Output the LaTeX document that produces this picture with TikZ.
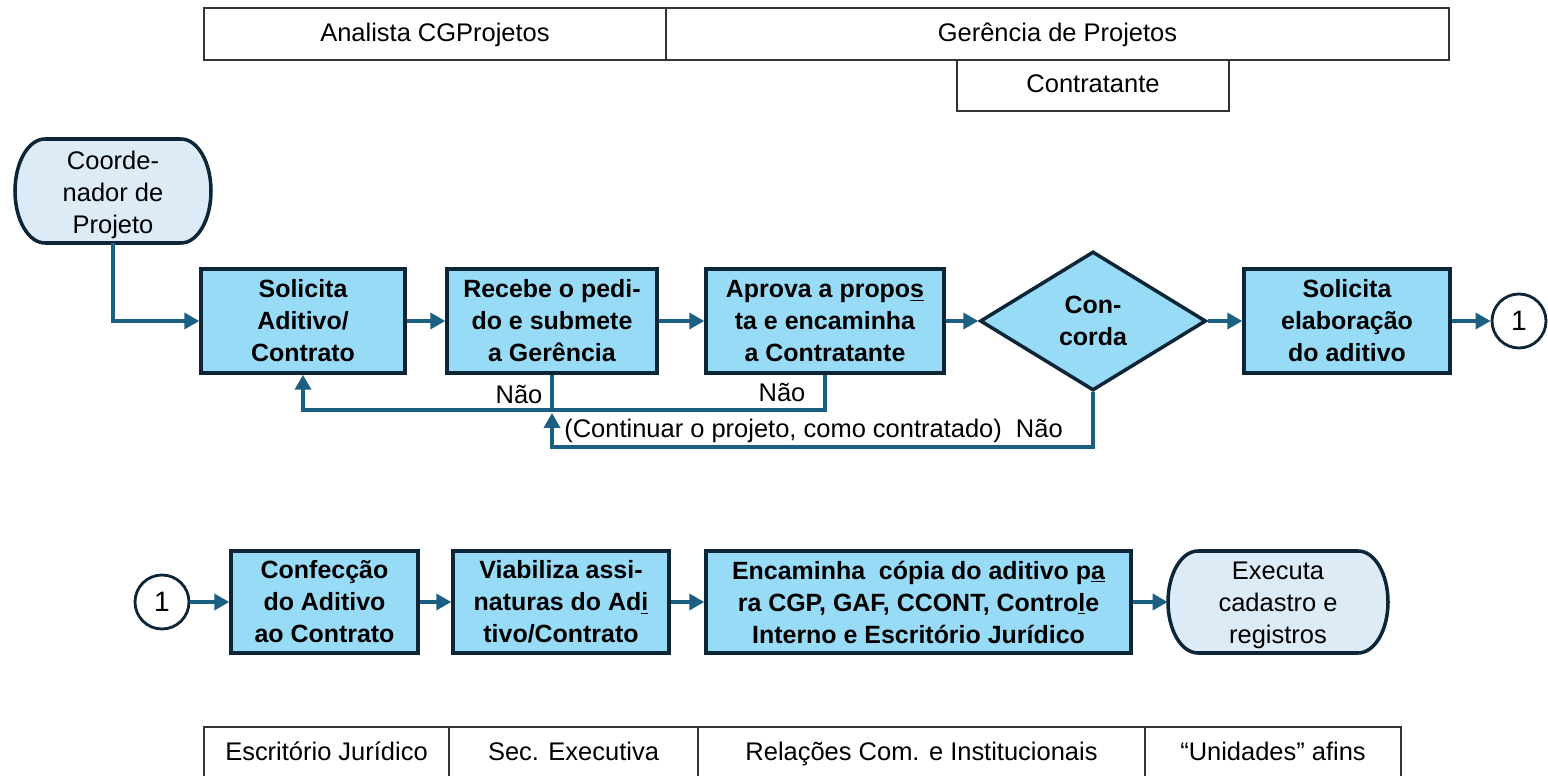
\documentclass[tikz,border=0pt]{standalone}
\usepackage{fontspec}
\setmainfont{Liberation Sans}
\usetikzlibrary{shapes.geometric,arrows.meta,calc}
\definecolor{boxfill}{HTML}{98DBF7}
\definecolor{termfill}{HTML}{DDEBF7}
\definecolor{bord}{HTML}{0D2637}
\definecolor{arrc}{HTML}{1B5F82}
\begin{document}
\begin{tikzpicture}[x=0.02cm,y=-0.02cm,
  proc/.style={draw=bord, fill=boxfill, line width=2pt, align=center, inner sep=0pt,
    minimum height=2.08cm, font=\bfseries\fontsize{14.2}{18.2}\selectfont},
  hdr/.style={draw=black!80, line width=0.8pt, inner sep=0pt, minimum height=1.04cm,
    text height=1.04em, text depth=0.22em, font=\fontsize{14.5}{17}\selectfont},
  termtxt/.style={draw=none, align=center, inner sep=0pt, font=\fontsize{14.5}{18.2}\selectfont},
  termshape/.style={draw=bord, fill=termfill, line width=2pt},
  conn/.style={circle, draw=bord, fill=white, line width=1.6pt, minimum size=1.08cm, inner sep=0pt,
    font=\fontsize{16}{18}\selectfont},
  lbl/.style={inner sep=0pt, font=\fontsize{14.5}{17}\selectfont},
  arr/.style={draw=arrc, line width=2pt, -{Triangle[length=0.3cm,width=0.32cm]}},
  fbline/.style={draw=arrc, line width=2pt}]
\useasboundingbox (0,0) rectangle (1548,776);

% header lanes
\node[hdr, minimum width=9.24cm] (hA) at (435,34) {Analista CGProjetos};
\node[hdr, minimum width=15.66cm] (hG) at (1057.5,34) {Gerência de Projetos};
\node[hdr, minimum width=5.44cm, minimum height=1.02cm] (hC) at (1093,85.5) {Contratante};

% bottom lanes
\node[hdr, minimum width=4.9cm] (b1) at (326.5,753) {Escritório Jurídico};
\node[hdr, minimum width=4.98cm] (b2) at (573.5,753) {Sec. Executiva};
\node[hdr, minimum width=8.94cm] (b3) at (921.5,753) {Relações Com. e Institucionais};
\node[hdr, minimum width=5.12cm] (b4) at (1273,753) {“Unidades” afins};

% terminator: Coordenador de Projeto
\path[termshape] (45,139) -- (181,139) .. controls (197.6,139) and (211,162.3) .. (211,191)
  .. controls (211,219.7) and (197.6,243) .. (181,243) -- (45,243)
  .. controls (28.4,243) and (15,219.7) .. (15,191)
  .. controls (15,162.3) and (28.4,139) .. (45,139) -- cycle;
\node[termtxt, minimum width=3.92cm, minimum height=2.08cm] (coord) at (113,191) {};
\node[termtxt] (coordt) at (113,194.5) {Coorde-\\nador de\\Projeto};

% top row
\node[proc, minimum width=4.08cm] (sol) at (303,321) {Solicita\\Aditivo/\\Contrato};
\node[proc, minimum width=4.2cm] (rec) at (552,321) {Recebe o pedi-\\do e submete\\a Gerência};
\node[proc, minimum width=4.76cm] (apr) at (825,321) {Aprova a propo\underline{s}\\ta e encaminha\\a Contratante};
\node[diamond, draw=bord, fill=boxfill, line width=2pt, minimum width=4.52cm, minimum height=2.78cm,
  inner sep=0pt, align=center, font=\bfseries\fontsize{14.2}{18.2}\selectfont] (conc) at (1093,321) {Con-\\corda};
\node[proc, minimum width=4.12cm] (sel) at (1347,321) {Solicita\\elaboração\\do aditivo};
\node[conn] (c1) at (1519,321) {1};

% bottom row
\node[conn] (c2) at (162,602) {1};
\node[proc, minimum width=3.74cm, minimum height=2.04cm] (conf) at (324.5,602) {Confecção\\do Aditivo\\ao Contrato};
\node[proc, minimum width=4.32cm, minimum height=2.04cm] (via) at (561,602) {Viabiliza assi-\\naturas do Ad\underline{i}\\tivo/Contrato};
\node[proc, minimum width=8.5cm, minimum height=2.04cm] (enc) at (918.5,602) {Encaminha\ \ cópia do aditivo p\underline{a}\\ra CGP, GAF, CCONT, Contro\underline{l}e\\Interno e Escritório Jurídico};
\path[termshape] (1198,551) -- (1358,551) .. controls (1374.6,551) and (1388,573.8) .. (1388,602)
  .. controls (1388,630.2) and (1374.6,653) .. (1358,653) -- (1198,653)
  .. controls (1181.4,653) and (1168,630.2) .. (1168,602)
  .. controls (1168,573.8) and (1181.4,551) .. (1198,551) -- cycle;
\node[termtxt, minimum width=4.4cm, minimum height=2.04cm] (exe) at (1278,602) {};
\node[termtxt] (exet) at (1278,605.5) {Executa\\cadastro e\\registros};

% main flow
\draw[arr] (coord.south) |- (sol.west);
\draw[arr] (sol.east) -- (rec.west);
\draw[arr] (rec.east) -- (apr.west);
\draw[arr] (apr.east) -- (conc.west);
\draw[arr] (conc.east) -- (sel.west);
\draw[arr] (sel.east) -- (c1.west);

\draw[arr] (c2.east) -- (conf.west);
\draw[arr] (conf.east) -- (via.west);
\draw[arr] (via.east) -- (enc.west);
\draw[arr] (enc.east) -- (exe.west);

% feedback loops
\coordinate (yA) at (0,410);
\coordinate (yB) at (0,447);
\coordinate (yC) at (0,413);
\draw[arr] (rec.south) -- (rec.south |- yA) -| (sol.south);
\draw[fbline] (apr.south) |- (rec.south |- yA);
\draw[arr] (conc.south) |- (rec.south |- yB) -- (rec.south |- yC);

\node[lbl] (n1) at (519,394) {Não};
\node[lbl] (n2) at (782,392) {Não};
\node[lbl, anchor=west] (n3) at (564,431) {(Continuar o projeto, como contratado)\ \ Não};
\end{tikzpicture}
\end{document}
